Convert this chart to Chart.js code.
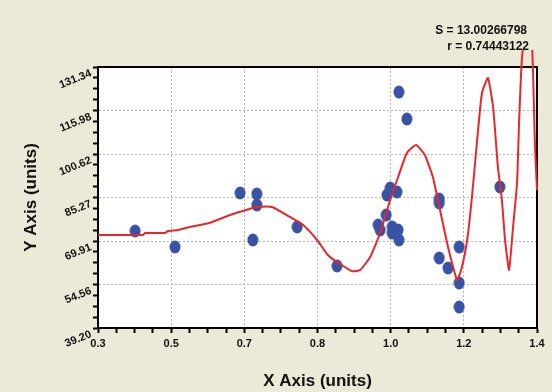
<!DOCTYPE html>
<html lang="en">
<head>
  <meta charset="UTF-8">
  <title>Scatter with fitted curve</title>
  <script src="https://cdn.jsdelivr.net/npm/chart.js"></script>
  <style>
    html, body { margin: 0; padding: 0; background: #ECE9D8; }
    #wrap { width: 552px; height: 392px; }
  </style>
</head>
<body>
<div id="wrap"><canvas id="fitChart" width="552" height="392"></canvas></div>
<script>
  // measured points
  const dotX = [0.393, 0.493, 0.656, 0.698, 0.698, 0.688, 0.799, 0.899, 1.002, 1.007,
                1.022, 1.024, 1.032, 1.049, 1.037, 1.037, 1.052, 1.054, 1.054, 1.074,
                1.155, 1.155, 1.155, 1.177, 1.205, 1.205, 1.205, 1.307];
  const dotY = [73.44, 67.80, 86.86, 86.51, 82.62, 70.27, 74.86, 61.09, 75.56, 73.80,
                79.09, 86.15, 88.62, 87.21, 74.86, 72.74, 73.80, 70.27, 122.5, 112.98,
                84.74, 83.33, 63.91, 60.38, 67.80, 55.09, 46.61, 88.98];

  // fitted curve
  const fitX = [0.300, 0.413, 0.418, 0.468, 0.475, 0.501, 0.531, 0.581, 0.631, 0.681,
                0.698, 0.736, 0.781, 0.814, 0.849, 0.876, 0.899, 0.936, 0.957, 0.982,
                1.007, 1.032, 1.052, 1.074, 1.097, 1.119, 1.139, 1.157, 1.177, 1.200,
                1.212, 1.225, 1.237, 1.250, 1.262, 1.277, 1.290, 1.302, 1.312, 1.320,
                1.330, 1.340, 1.350, 1.355, 1.362, 1.375, 1.388, 1.395, 1.400];
  const fitY = [72.03, 72.03, 72.74, 72.74, 73.44, 73.80, 74.86, 76.37, 79.09, 81.32,
                81.92, 81.92, 78.39, 75.56, 70.27, 64.97, 62.50, 59.32, 59.68, 64.27,
                72.74, 84.39, 92.51, 100.98, 103.81, 100.27, 92.51, 80.86, 67.80, 56.15,
                60.74, 70.27, 85.45, 105.57, 122.16, 127.46, 117.22, 96.04, 84.39, 70.27,
                59.68, 74.86, 90.39, 111.57, 133.81, 150.0, 137.34, 103.1, 87.92];

  const xMajor = [0.3, 0.48333, 0.66667, 0.85, 1.03333, 1.21667, 1.4];
  const xTickLabels = ['0.3', '0.5', '0.7', '0.8', '1.0', '1.2', '1.4'];
  const yMajor = [39.20, 54.56, 69.91, 85.27, 100.62, 115.98, 131.34];
  const yTickLabels = ['39.20', '54.56', '69.91', '85.27', '100.62', '115.98', '131.34'];

  const statLines = ['S = 13.00266798', 'r = 0.74443122'];

  const FONT = '"Liberation Sans", Arial, sans-serif';

  // major ticks plus 3 minor ticks in between
  function withMinors(major) {
    const out = [];
    for (let i = 0; i < major.length; i++) {
      out.push({ value: major[i] });
      if (i < major.length - 1) {
        const step = (major[i + 1] - major[i]) / 4;
        for (let k = 1; k < 4; k++) out.push({ value: major[i] + step * k });
      }
    }
    return out;
  }

  // blue oval marker
  const dotImg = document.createElement('canvas');
  dotImg.width = 12; dotImg.height = 14;
  (function () {
    const c = dotImg.getContext('2d');
    c.fillStyle = '#3953a4';
    c.beginPath();
    c.ellipse(6, 7, 5.5, 6.5, 0, 0, Math.PI * 2);
    c.fill();
  })();

  const frame = {
    id: 'frame',
    beforeDraw(chart) {
      const { ctx, chartArea: a } = chart;
      ctx.save();
      ctx.fillStyle = '#ffffff';
      ctx.fillRect(a.left, a.top, a.right - a.left, a.bottom - a.top);
      ctx.restore();
    },
    beforeDatasetsDraw(chart) {
      const { ctx, chartArea: a } = chart;
      ctx.save();
      ctx.strokeStyle = '#000';
      ctx.lineWidth = 2;
      ctx.strokeRect(a.left, a.top, a.right - a.left, a.bottom - a.top);
      ctx.restore();
    },
    afterDraw(chart) {
      const ctx = chart.ctx;
      ctx.save();
      ctx.fillStyle = '#111';
      ctx.font = 'bold 12px ' + FONT;
      ctx.textAlign = 'right';
      ctx.textBaseline = 'middle';
      ctx.fillText(statLines[0], 527, 31);
      ctx.fillText(statLines[1], 529, 47);
      ctx.restore();
    }
  };

  const tickFont = { family: FONT, size: 11, weight: 'bold' };
  const titleFont = { family: FONT, size: 17, weight: 'bold' };

  new Chart(document.getElementById('fitChart'), {
    type: 'scatter',
    data: {
      datasets: [
        {
          label: 'fit',
          data: fitX.map((x, i) => ({ x: x, y: fitY[i] })),
          showLine: true,
          borderColor: '#e8262b',
          borderWidth: 2,
          pointRadius: 0,
          tension: 0.15,
          clip: { left: 0, top: 17, right: 2, bottom: 0 },
          order: 0
        },
        {
          label: 'data',
          data: dotX.map((x, i) => ({ x: x, y: dotY[i] })),
          pointStyle: dotImg,
          pointRadius: 6,
          order: 1
        }
      ]
    },
    options: {
      responsive: false,
      animation: false,
      layout: { padding: { top: 67, right: 15, left: 0, bottom: 0 } },
      plugins: { legend: { display: false }, tooltip: { enabled: false } },
      scales: {
        x: {
          type: 'linear',
          min: 0.3,
          max: 1.4,
          afterBuildTicks: s => { s.ticks = withMinors(xMajor); },
          afterFit: s => { s.height = 64; },
          ticks: {
            autoSkip: false,
            maxRotation: 0,
            padding: 4,
            color: '#111',
            font: tickFont,
            callback: (v, i) => (i % 4 === 0 ? xTickLabels[i / 4] : '')
          },
          grid: {
            color: c => (c.index % 4 === 0 ? '#b4b4b4' : 'transparent'),
            lineWidth: 1,
            tickColor: '#000',
            tickWidth: 2,
            tickLength: 5
          },
          border: { display: true, color: '#000', width: 2, dash: [2, 2] },
          title: {
            display: true,
            text: 'X Axis (units)',
            color: '#111',
            font: titleFont,
            padding: { top: 0, bottom: 0 }
          }
        },
        y: {
          type: 'linear',
          min: 39.20,
          max: 131.34,
          afterBuildTicks: s => { s.ticks = withMinors(yMajor); },
          afterFit: s => { s.width = 98; },
          ticks: {
            autoSkip: false,
            minRotation: 22,
            maxRotation: 22,
            padding: 2,
            labelOffset: 6,
            color: '#111',
            font: tickFont,
            callback: (v, i) => (i % 4 === 0 ? yTickLabels[i / 4] : '')
          },
          grid: {
            color: c => (c.index % 4 === 0 ? '#b4b4b4' : 'transparent'),
            lineWidth: 1,
            tickColor: '#000',
            tickWidth: 2,
            tickLength: 5
          },
          border: { display: true, color: '#000', width: 2, dash: [2, 2] },
          title: {
            display: true,
            text: 'Y Axis (units)',
            color: '#111',
            font: titleFont,
            padding: { top: 21 }
          }
        }
      }
    },
    plugins: [frame]
  });
</script>
</body>
</html>
